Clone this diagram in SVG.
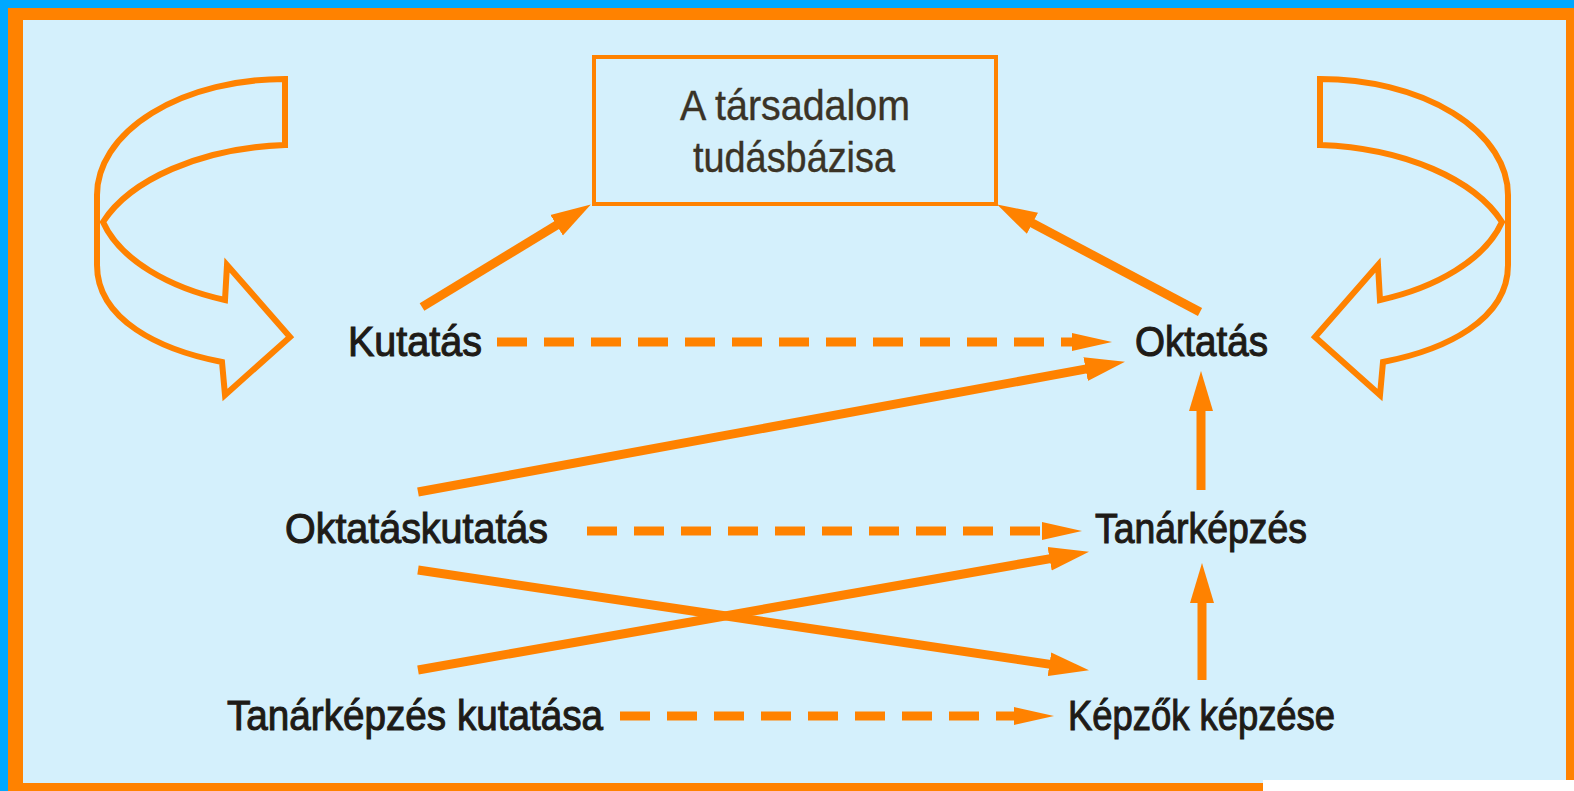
<svg xmlns="http://www.w3.org/2000/svg" width="1574" height="791" viewBox="0 0 1574 791">
<style>
.lbl{font-family:"Liberation Sans",Arial,sans-serif;font-size:43px;fill:#1e1b17;stroke:#1e1b17;stroke-width:1.1px}
.box{font-family:"Liberation Sans",Arial,sans-serif;font-size:43px;fill:#3a3326;stroke:#3a3326;stroke-width:0.4px}
.solid{stroke:#FF8200;stroke-width:9;fill:none;stroke-linecap:butt}
.dash{stroke:#FF8200;stroke-width:9;fill:none;stroke-dasharray:30 17}
.curl{fill:none;stroke:#FF8200;stroke-width:6;stroke-linejoin:miter}
</style>
<defs>
<marker id="ah" markerUnits="userSpaceOnUse" markerWidth="44" markerHeight="26" refX="1" refY="12" orient="auto" viewBox="0 0 44 24">
<path d="M0,0 L40,12 L0,24 Z" fill="#FF8200"/>
</marker>
<marker id="ahd" markerUnits="userSpaceOnUse" markerWidth="44" markerHeight="22" refX="1" refY="10" orient="auto" viewBox="0 0 44 20">
<path d="M0,1 L40,10 L0,19 Z" fill="#FF8200"/>
</marker>
</defs>
<rect x="0" y="0" width="1574" height="791" fill="#00A8FF"/>
<rect x="8" y="8" width="1566" height="783" fill="#FF8200"/>
<rect x="23" y="20" width="1543" height="763" fill="#D4F0FC"/>
<rect x="1263" y="780" width="311" height="11" fill="#FFFFFF"/>

<g id="curl-left">
<path class="curl" d="M285,79 A188,116 0 0 0 97,195 L97,265 C97,320 160,350 222,362 L225,395 L290,337 L227,265 L225,300 C170,288 120,260 103,222 C130,180 200,148 285,145 Z"/>
</g>
<g id="curl-right" transform="translate(1605,0) scale(-1,1)">
<path class="curl" d="M285,79 A188,116 0 0 0 97,195 L97,265 C97,320 160,350 222,362 L225,395 L290,337 L227,265 L225,300 C170,288 120,260 103,222 C130,180 200,148 285,145 Z"/>
</g>

<g id="node-tudasbazis">
<rect x="594" y="57" width="402" height="147" fill="none" stroke="#FF8200" stroke-width="4"/>
<text class="box" x="680" y="120" textLength="230" lengthAdjust="spacingAndGlyphs">A társadalom</text>
<text class="box" x="693" y="172" textLength="202" lengthAdjust="spacingAndGlyphs">tudásbázisa</text>
</g>
<g id="node-kutatas"><text class="lbl" x="348" y="356" textLength="134" lengthAdjust="spacingAndGlyphs">Kutatás</text></g>
<g id="node-oktatas"><text class="lbl" x="1135" y="356" textLength="133" lengthAdjust="spacingAndGlyphs">Oktatás</text></g>
<g id="node-oktataskutatas"><text class="lbl" x="285" y="543" textLength="263" lengthAdjust="spacingAndGlyphs">Oktatáskutatás</text></g>
<g id="node-tanarkepzes"><text class="lbl" x="1095" y="543" textLength="212" lengthAdjust="spacingAndGlyphs">Tanárképzés</text></g>
<g id="node-tanarkepzes-kutatasa"><text class="lbl" x="227" y="730" textLength="376" lengthAdjust="spacingAndGlyphs">Tanárképzés kutatása</text></g>
<g id="node-kepzok-kepzese"><text class="lbl" x="1068" y="730" textLength="267" lengthAdjust="spacingAndGlyphs">Képzők képzése</text></g>

<g id="connectors">
<line class="solid" x1="422" y1="307" x2="557.5" y2="224.7" marker-end="url(#ah)"/>
<line class="solid" x1="1200" y1="312" x2="1031.6" y2="222.8" marker-end="url(#ah)"/>
<line class="dash" x1="497" y1="342" x2="1073" y2="342" marker-end="url(#ahd)"/>
<line class="solid" x1="418" y1="492" x2="1086.6" y2="368.9" marker-end="url(#ah)"/>
<line class="dash" x1="587" y1="531" x2="1043" y2="531" marker-end="url(#ahd)"/>
<line class="solid" x1="418" y1="570" x2="1050.4" y2="664.4" marker-end="url(#ah)"/>
<line class="solid" x1="418" y1="670" x2="1050.6" y2="558.6" marker-end="url(#ah)"/>
<line class="dash" x1="620" y1="716" x2="1015" y2="716" marker-end="url(#ahd)"/>
<line class="solid" x1="1202" y1="680" x2="1202" y2="602" marker-end="url(#ah)"/>
<line class="solid" x1="1201" y1="490" x2="1201" y2="410" marker-end="url(#ah)"/>
</g>
</svg>
